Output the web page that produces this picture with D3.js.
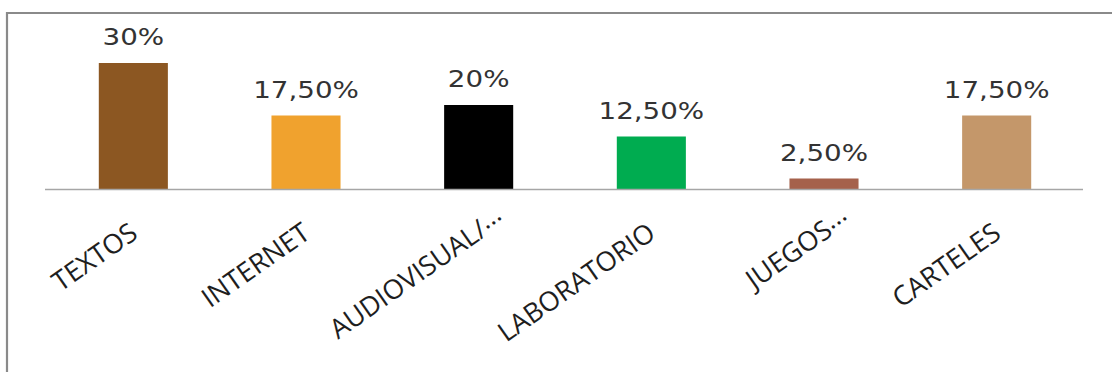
<!DOCTYPE html>
<html>
<head>
<meta charset="utf-8">
<script src="https://cdn.jsdelivr.net/npm/d3@7"></script>
<style>
  html, body { margin: 0; padding: 0; background: #ffffff; }
  svg { display: block; }
</style>
</head>
<body>
<svg id="chart" width="1112" height="372"></svg>
<script>
// ---- data ----
const categories = ["TEXTOS", "INTERNET", "AUDIOVISUAL/…", "LABORATORIO", "JUEGOS…", "CARTELES"];
const values = [30, 17.5, 20, 12.5, 2.5, 17.5];
const valueLabels = ["30%", "17,50%", "20%", "12,50%", "2,50%", "17,50%"];
const colors = ["#8c5722", "#f0a22e", "#000000", "#00ac50", "#a5614b", "#c4976a"];

// ---- layout ----
const W = 1112, H = 372;
const svg = d3.select("#chart");

// outer frame (top and left edges visible)
svg.append("path")
  .attr("d", `M7,${H} L7,13 L${W},13`)
  .attr("fill", "none")
  .attr("stroke", "#8a8a8a")
  .attr("stroke-width", 2.2);

const x = d3.scaleBand()
  .domain(categories)
  .range([47, 1083])
  .paddingInner(0.6)
  .paddingOuter(0.3);

const y = d3.scaleLinear()
  .domain([0, 30])
  .range([189, 63]);

// bars
svg.append("g").selectAll("rect")
  .data(categories)
  .join("rect")
  .attr("x", d => x(d))
  .attr("width", x.bandwidth())
  .attr("y", (d, i) => y(values[i]))
  .attr("height", (d, i) => y(0) - y(values[i]))
  .attr("fill", (d, i) => colors[i]);

// baseline axis
svg.append("line")
  .attr("x1", 45).attr("x2", x.range()[1])
  .attr("y1", y(0) + 0.5).attr("y2", y(0) + 0.5)
  .attr("stroke", "#a6a6a6")
  .attr("stroke-width", 1.6);

// value labels
svg.append("g").selectAll("text")
  .data(categories)
  .join("text")
  .attr("transform", (d, i) => `translate(${x(d) + x.bandwidth() / 2},${y(values[i]) - 18}) scale(1.18,1)`)
  .attr("text-anchor", "middle")
  .attr("font-family", "DejaVu Sans, Verdana, sans-serif")
  .attr("font-size", 23.5)
  .attr("fill", "#333333")
  .text((d, i) => valueLabels[i]);

// category labels (rotated)
const cat = svg.append("g").selectAll("text")
  .data(categories)
  .join("text")
  .attr("transform", d => `translate(${x(d) + x.bandwidth() / 2 + 6},${y(0) + 48}) rotate(-35)`)
  .attr("x", d => d.endsWith("…") ? 26 : 0)
  .attr("text-anchor", "end")
  .attr("font-family", "Open Sans, sans-serif")
  .attr("font-size", 27)
  .attr("fill", "#1e1e1e");

cat.each(function(d) {
  const t = d3.select(this);
  if (d.endsWith("…")) {
    t.append("tspan").text(d.slice(0, -1));
    t.append("tspan").attr("dy", -5).text("…");
  } else {
    t.text(d);
  }
});
</script>
</body>
</html>
